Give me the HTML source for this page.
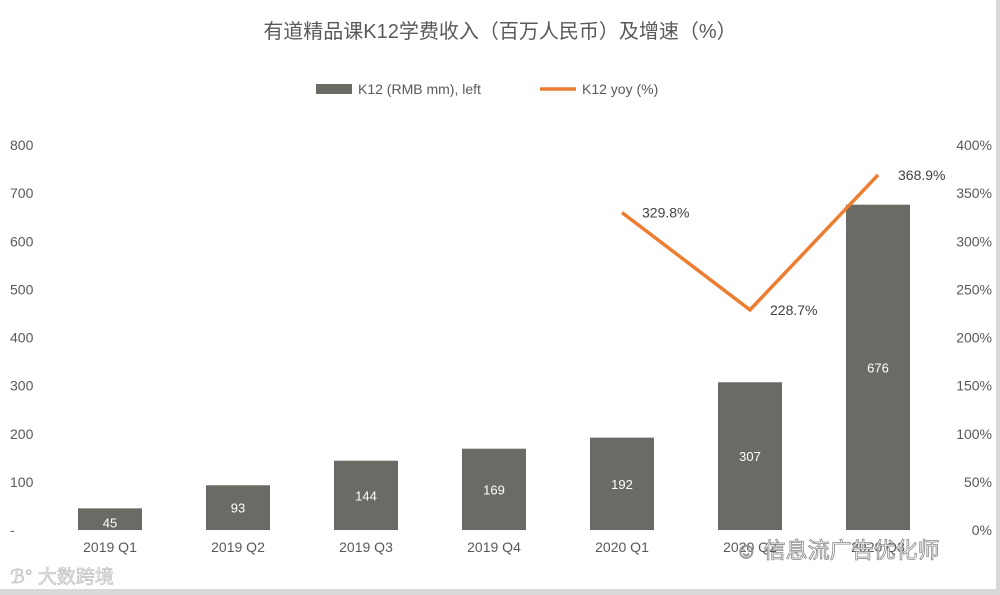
<!DOCTYPE html>
<html><head><meta charset="utf-8"><style>
body{margin:0;background:#fff}
svg{display:block;font-family:"Liberation Sans","Noto Sans CJK SC",sans-serif}
</style></head><body>
<svg id="c" width="1000" height="595">
<rect x="0" y="0" width="1000" height="595" fill="#fff"/>
<rect x="0" y="589" width="1000" height="6" fill="#d9d9d9"/>
<rect x="996" y="0" width="4" height="595" fill="#d9d9d9"/>
<text x="500" y="38" text-anchor="middle" font-size="20" fill="#595959">有道精品课K12学费收入（百万人民币）及增速（%）</text>
<g>
<rect x="316" y="84" width="36" height="10" fill="#6b6b66"/>
<text x="358" y="94" font-size="14" fill="#595959">K12 (RMB mm), left</text>
<line x1="540" y1="89" x2="576" y2="89" stroke="#ed7d31" stroke-width="3.5"/>
<text x="582" y="94" font-size="14" fill="#595959">K12 yoy (%)</text>
</g>
<g id="g"></g>
<text x="10" y="583" font-size="19" fill="#e8e8e8" stroke="#bbb" stroke-width="0.6">ℬ° 大数跨境</text>
<text x="735" y="558" font-size="22" fill="#fff" stroke="#888" stroke-width="0.8">☺ 信息流广告优化师</text>
</svg>
<script>
const categories=["2019 Q1","2019 Q2","2019 Q3","2019 Q4","2020 Q1","2020 Q2","2020 Q3"];
const revenue=[45,93,144,169,192,307,676];
const yoy=[null,null,null,null,329.8,228.7,368.9];
const leftTicks=[0,100,200,300,400,500,600,700,800];
const rightTicks=[0,50,100,150,200,250,300,350,400];
const ns="http://www.w3.org/2000/svg";
const g=document.getElementById("g");
const y0=530,yTop=145;
const yL=v=>y0-(v/800)*(y0-yTop);
const yR=v=>y0-(v/400)*(y0-yTop);
const xC=i=>110+i*128;
function mk(t,a){const e=document.createElementNS(ns,t);for(const k in a)e.setAttribute(k,a[k]);g.appendChild(e);return e;}
leftTicks.forEach(v=>{const e=mk("text",{x:10,y:yL(v)+5,"font-size":14,fill:"#595959"});e.textContent=v===0?"-":v;

});
rightTicks.forEach(v=>{const e=mk("text",{x:992,y:yR(v)+5,"font-size":14,fill:"#595959","text-anchor":"end"});e.textContent=v+"%";

});
categories.forEach((c,i)=>{const e=mk("text",{x:xC(i),y:552,"font-size":14,fill:"#595959","text-anchor":"middle"});e.textContent=c;

});
revenue.forEach((v,i)=>{const r=mk("rect",{x:xC(i)-32,y:yL(v),width:64,height:y0-yL(v),fill:"#6b6b66"});


const ly=Math.max((yL(v)+y0)/2,yL(v)+14)+5;
const t=mk("text",{x:xC(i),y:ly,"font-size":13,fill:"#fff","text-anchor":"middle"});t.textContent=v;

});
const pts=[];yoy.forEach((v,i)=>{if(v!==null)pts.push([xC(i),yR(v),v]);});
const pl=mk("polyline",{points:pts.map(p=>p[0]+","+p[1]).join(" "),fill:"none",stroke:"#ed7d31","stroke-width":3.5,"stroke-linejoin":"miter"});


pts.forEach(p=>{const t=mk("text",{x:p[0]+20,y:p[1]+5,"font-size":14,fill:"#404040"});t.textContent=p[2].toFixed(1)+"%";

});
</script>
</body></html>
